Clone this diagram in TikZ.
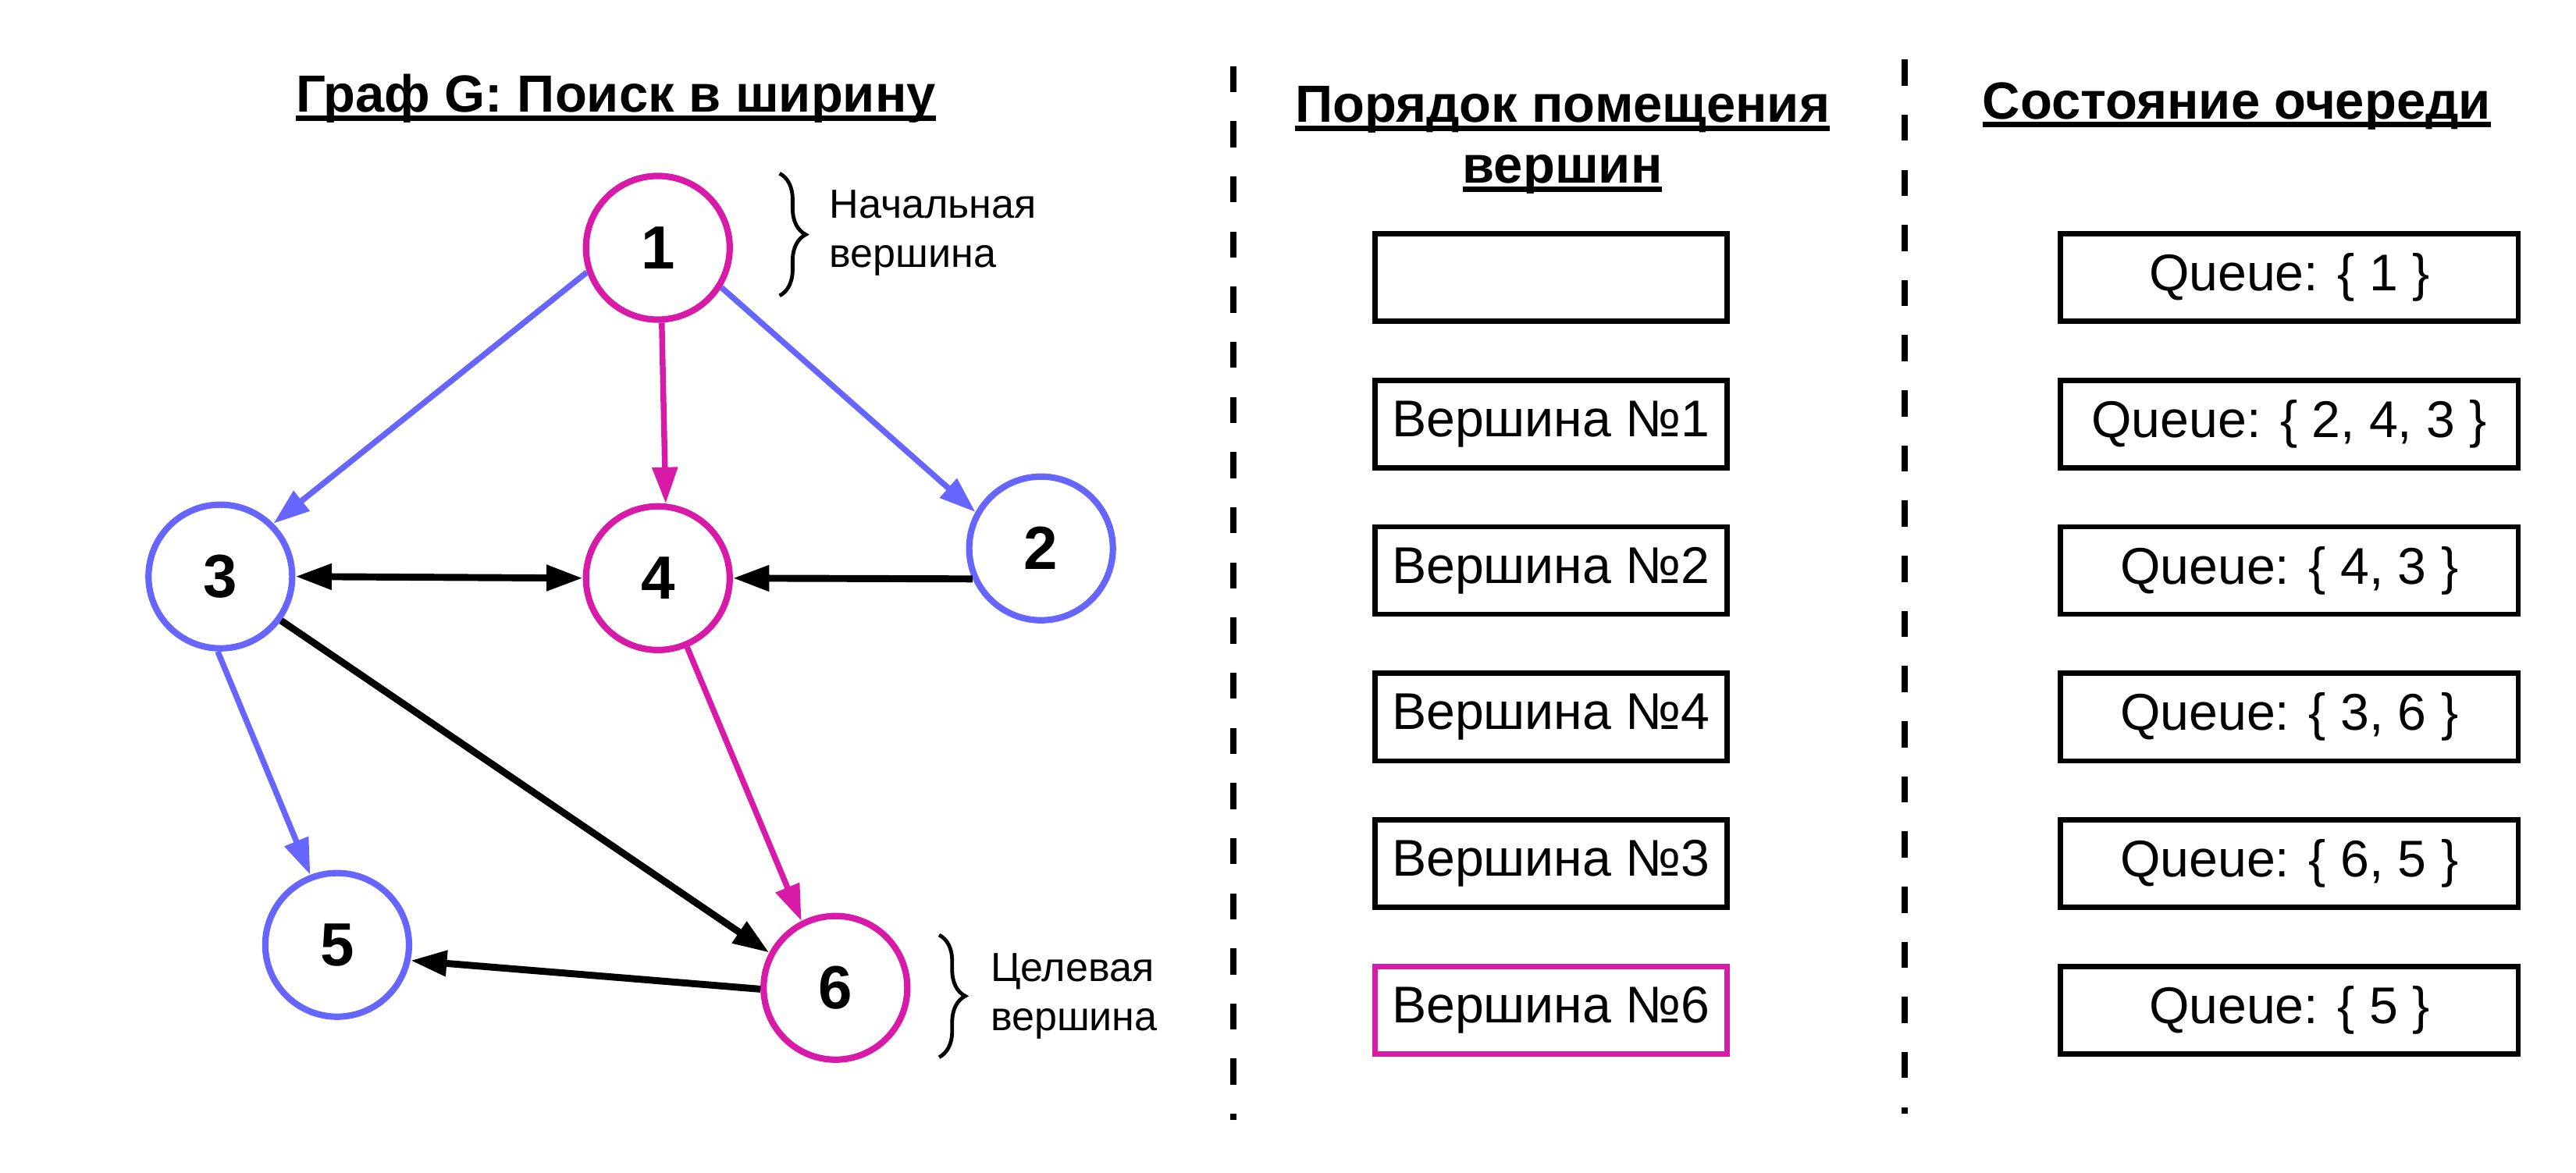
\documentclass[tikz,border=0pt]{standalone}
\usepackage{fontspec}
\setmainfont{Liberation Sans}
\usepackage{xcolor}
\usepackage{tikz}
\usetikzlibrary{arrows.meta, decorations.pathreplacing}
\definecolor{vpink}{RGB}{216,26,168}
\definecolor{vblue}{RGB}{102,102,255}
% underline that runs through the descenders
\newcommand{\ulin}[1]{\setbox0\hbox{#1}\rlap{\rule[-0.16em]{\wd0}{0.1em}}\box0}
\tikzstyle{tip} = [-{Triangle[length=12.5pt,width=8.5pt]}]
\tikzstyle{vertexblue} = [circle, draw=vblue, line width=2.2pt, minimum size=1.74cm, inner sep=0pt, font=\fontsize{21}{25}\selectfont\bfseries]
\tikzstyle{vertexpink} = [vertexblue, draw=vpink]
\tikzstyle{edgeblue} = [tip, color=vblue, line width=2pt]
\tikzstyle{edgepink} = [tip, color=vpink, line width=2pt]
\tikzstyle{edgeblack} = [tip, color=black, line width=2.4pt]
\tikzstyle{heading} = [anchor=base, align=center, font=\fontsize{18}{21}\selectfont\bfseries]
\tikzstyle{note} = [anchor=base west, align=left, inner sep=0pt, font=\fontsize{14}{17}\selectfont]
\tikzstyle{curly} = [decorate, decoration={brace, amplitude=9pt}, line width=1.3pt]
\tikzstyle{orderbox} = [draw, line width=1.8pt, minimum width=4.26cm, minimum height=1.06cm, inner sep=0pt, font=\fontsize{17.8}{21}\selectfont]
\tikzstyle{queuebox} = [orderbox, minimum width=5.54cm]
\tikzstyle{divider} = [line width=2pt, dash pattern=on 9pt off 10pt]

\begin{document}
\begin{tikzpicture}[x=0.01992cm, y=-0.02cm]
	\useasboundingbox (0,0) rectangle (1566.3,710);

	% Headings:
	\node [heading] (title) at (374.5,68) {\ulin{Граф G: Поиск в ширину}};
	\node [heading] (ordertitle) at (950,111) {\ulin{Порядок помещения}\\\ulin{вершин}};
	\node [heading] (queuetitle) at (1360,72) {\ulin{Состояние очереди}};

	% Dashed dividers:
	\draw [divider] (750,40) -- (750,678);
	\draw [divider] (1158,36) -- (1158,674);

	% Vertices:
	\node [vertexpink] (n1) at (400,150) {1};
	\node [vertexblue] (n2) at (633,332) {2};
	\node [vertexblue] (n3) at (134,349) {3};
	\node [vertexpink] (n4) at (400,350) {4};
	\node [vertexblue] (n5) at (205,572) {5};
	\node [vertexpink] (n6) at (508,598) {6};

	% Edges:
	\draw [edgeblue] (n1.199) -- (n3.45);
	\draw [edgepink] (n1.-87) -- (n4.84);
	\draw [edgeblue] (n1.-32) -- (n2.151);
	\draw [edgeblack, {Triangle[length=12.5pt,width=8.5pt]}-{Triangle[length=12.5pt,width=8.5pt]}] (n3.east) -- (n4.west);
	\draw [edgeblack] (n2.204) -- (n4.east);
	\draw [edgeblack] (n3.-36) -- (n6.152);
	\draw [edgepink] (n4.-67) -- (n6.117);
	\draw [edgeblue] (n3.-92) -- (n5.111);
	\draw [edgeblack] (n6.181) -- (n5.-12);

	% Start and goal notes:
	\coordinate (starttop) at (474,105);
	\coordinate (startbot) at (474,179);
	\draw [curly] (starttop) -- (startbot);
	\node [note] (startnote) at (504,162) {Начальная\\вершина};
	\coordinate (goaltop) at (571,566);
	\coordinate (goalbot) at (571,640);
	\draw [curly] (goaltop) -- (goalbot);
	\node [note] (goalnote) at (602,624) {Целевая\\вершина};

	% Visiting order and queue state:
	\foreach \lbl/\clr [count=\i from 0] in {/black, Вершина №1/black, Вершина №2/black, Вершина №4/black, Вершина №3/black, Вершина №6/vpink}
		\node [orderbox, draw=\clr] (ord\i) at (943,168+88.7*\i) {\lbl};
	\foreach \q [count=\i from 0] in {1, {2, 4, 3}, {4, 3}, {3, 6}, {6, 5}, 5}
		\node [queuebox] (que\i) at (1392,168+88.7*\i) {Queue: \{ \q\ \}};
\end{tikzpicture}
\end{document}
